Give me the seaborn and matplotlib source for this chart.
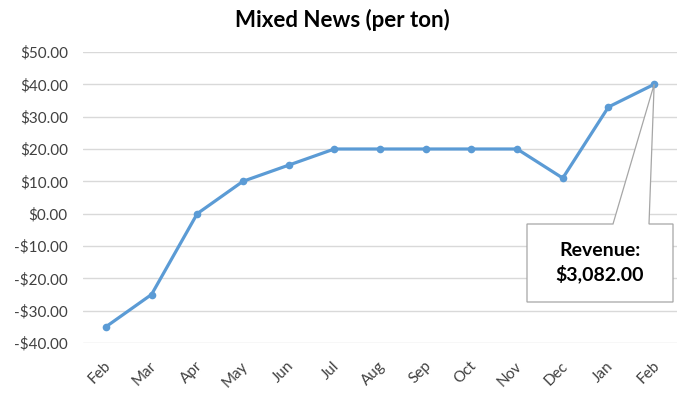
import matplotlib
matplotlib.use("Agg")
import matplotlib.pyplot as plt
import matplotlib.transforms as mtransforms
import seaborn as sns
import pandas as pd
import numpy as np
from matplotlib.patches import Polygon

months = ["Feb", "Mar", "Apr", "May", "Jun", "Jul", "Aug", "Sep", "Oct", "Nov", "Dec", "Jan", "Feb"]
values = [-35, -25, 0, 10, 15, 20, 20, 20, 20, 20, 11, 33, 40]
y_ticks = [-40, -30, -20, -10, 0, 10, 20, 30, 40, 50]
title = "Mixed News (per ton)"
callout = "Revenue:\n$3,082.00"

sns.set_theme(style="white")
plt.rcParams['font.family'] = ['Lato', 'DejaVu Sans']

df = pd.DataFrame({"pos": np.arange(len(months)), "value": values})

fig = plt.figure(figsize=(6.84, 3.94), dpi=100)
ax = fig.add_axes([83/684, 1-343/394, (677-83)/684, (343-52)/394])

sns.lineplot(data=df, x="pos", y="value", ax=ax, color="#5B9BD5", linewidth=2.3,
             marker="o", markersize=5.5, markeredgewidth=0, zorder=3)

ax.set_xlim(-0.5, len(months) - 0.5)
ax.set_ylim(-40, 50)
ax.set_yticks(y_ticks)
ax.set_yticklabels([("-$%.2f" % abs(v)) if v < 0 else ("$%.2f" % v) for v in y_ticks],
                   fontsize=11, color="#404040")
ax.set_xticks(df["pos"])
ax.set_xticklabels(months, rotation=45, fontsize=11, color="#404040", ha="right",
                   va="center", rotation_mode="anchor")
ax.tick_params(axis="y", length=0, pad=11)
ax.tick_params(axis="x", length=0, pad=15)
shift = mtransforms.ScaledTranslation(3/100, 0, fig.dpi_scale_trans)
for lbl in ax.get_xticklabels():
    lbl.set_transform(lbl.get_transform() + shift)
ax.set_xlabel("")
ax.set_ylabel("")
ax.grid(axis="y", color="#D9D9D9", linewidth=1)
ax.set_axisbelow(True)
for s in ax.spines.values():
    s.set_visible(False)

fig.text(342/684, 1 - 20/394, title, ha="center", va="center", fontsize=16,
         fontweight="bold", color="black")

# callout box pointing to the last data point
last_pos = df["pos"].iloc[-1]
last_val = df["value"].iloc[-1]
px, py = ax.transData.transform((last_pos, last_val))
H = 394
bx0, bx1 = 527, 673
by_top, by_bot = H - 224, H - 302
p1x, p2x = 613, 649
pts = [(p1x, by_top), (px, py), (p2x, by_top), (bx1, by_top), (bx1, by_bot),
       (bx0, by_bot), (bx0, by_top)]
poly = Polygon(pts, closed=True, transform=None, facecolor="white",
               edgecolor="#A6A6A6", linewidth=0.9, zorder=5)
fig.patches.append(poly)
fig.text((bx0 + bx1) / 2 / 684, (by_top + by_bot) / 2 / 394, callout, ha="center",
         va="center", fontsize=14, fontweight="bold", color="black",
         linespacing=1.35, zorder=6)

fig.savefig("out.png", dpi=100)
